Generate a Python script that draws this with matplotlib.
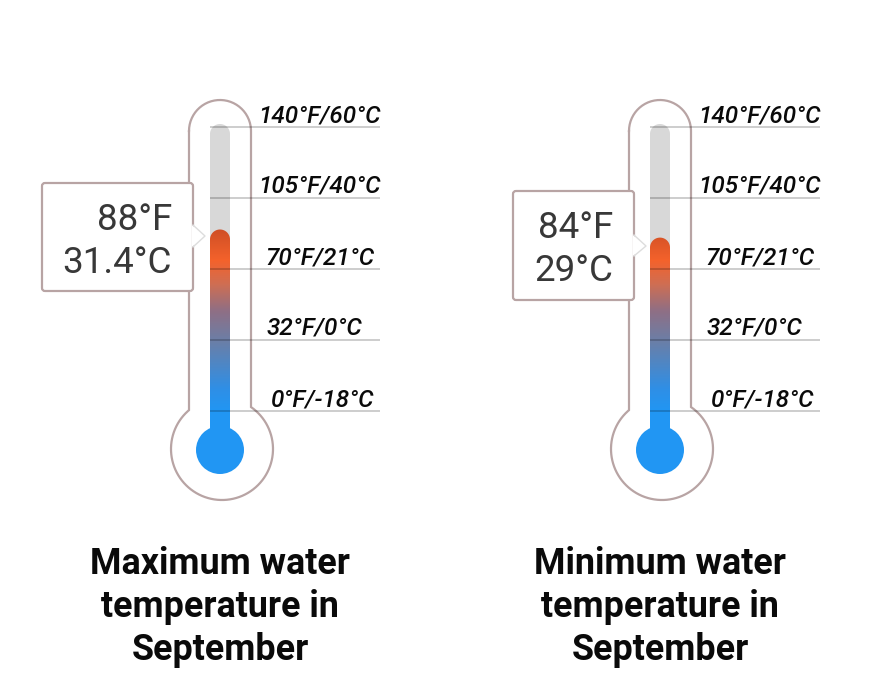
import numpy as np
import matplotlib
matplotlib.use("Agg")
import matplotlib.pyplot as plt
from matplotlib.path import Path
from matplotlib.patches import PathPatch, FancyBboxPatch, Polygon, Circle
from matplotlib.colors import LinearSegmentedColormap

plt.rcParams['font.family'] = ['Roboto', 'DejaVu Sans']

# Data
scale_f = [0, 32, 70, 105, 140]
tick_labels = ["0°F/-18°C", "32°F/0°C", "70°F/21°C", "105°F/40°C", "140°F/60°C"]
titles = ["Maximum water\ntemperature in\nSeptember", "Minimum water\ntemperature in\nSeptember"]
values_f = [88, 84]
values_c = ["31.4", "29"]

OUT = "#B8A4A4"
W, H = 880, 680
fig = plt.figure(figsize=(W / 100, H / 100), dpi=100)
ax = fig.add_axes([0, 0, 1, 1])
ax.set_xlim(0, W)
ax.set_ylim(H, 0)
ax.axis("off")

tick_y = [411, 340, 269, 198, 127]          # scale layout, px
label_x = [271, 267, 265.5, 258.5, 258.5]
def y_of(f):
    return np.interp(f, scale_f, tick_y)

cmap = LinearSegmentedColormap.from_list("t", [
    (0.00, "#CF4F26"), (0.17, "#F4622B"), (0.30, "#D06E52"),
    (0.45, "#8F6F85"), (0.62, "#6A7FA8"), (0.88, "#2F8FE6"), (1.00, "#2196F3")])

def tube_path(x0, x1, top, bottom):
    r = (x1 - x0) / 2
    t = np.linspace(np.pi, 0, 30)
    xs = (x0 + x1) / 2 + r * np.cos(t)
    ys = top + r - r * np.sin(t)
    v = [(x0, bottom)] + list(zip(xs, ys)) + [(x1, bottom), (x0, bottom)]
    return Path(v)

def thermo(dx, value_f, value_c, title, box, ptr):
    # outline
    cx, cy, R = 222 + dx, 449, 51
    tx, tr = 220 + dx, 31
    t = np.linspace(np.pi, 0, 60)
    top_x = tx + tr * np.cos(t)
    top_y = 131 - tr * np.sin(t)
    a_right = np.arctan2(np.sqrt(R**2 - 29**2), 29)
    a_left = np.arctan2(np.sqrt(R**2 - 33**2), -33)
    a = np.linspace(a_right, a_left - 2 * np.pi, 160)
    arc_x = cx + R * np.cos(a)
    arc_y = cy - R * np.sin(a)
    xs = np.concatenate([top_x, arc_x, top_x[:1]])
    ys = np.concatenate([top_y, arc_y, top_y[:1]])
    ax.plot(xs, ys, color=OUT, lw=1.6, zorder=1, solid_joinstyle="miter")

    # empty tube
    ax.add_patch(PathPatch(tube_path(210 + dx, 230 + dx, 124, 420), fc="#D8D8D8", ec="none", zorder=2))

    # filled part
    top = y_of(value_f) - 3
    clip = tube_path(210 + dx, 230 + dx, top, 440)
    grad = np.linspace(0, 1, 256).reshape(-1, 1)
    im = ax.imshow(grad, extent=(210 + dx, 230 + dx, 411, 229), aspect="auto",
                   cmap=cmap, origin="upper", zorder=3, interpolation="bilinear")
    im.set_clip_path(PathPatch(clip, transform=ax.transData))
    ax.add_patch(PathPatch(Path([(210 + dx, 411), (230 + dx, 411), (230 + dx, 440), (210 + dx, 440), (210 + dx, 411)]),
                           fc="#2196F3", ec="none", zorder=3))
    ax.add_patch(Circle((220 + dx, 450), 24, fc="#2196F3", ec="none", zorder=3))
    ax.set_xlim(0, W)
    ax.set_ylim(H, 0)

    # ticks and labels
    for yy, lab, lx in zip(tick_y, tick_labels, label_x):
        ax.plot([210 + dx, 380 + dx], [yy, yy], color="black", alpha=0.25, lw=1.1, zorder=4,
                solid_capstyle="butt")
        ax.text(lx + dx, yy - 5, lab, ha="left", va="baseline", fontsize=17.5, style="italic",
                fontweight="medium", color="#0A0A0A", zorder=5)

    # callout
    x0, y0, x1, y1 = box
    ax.add_patch(FancyBboxPatch((x0 + 2, y0 + 2), x1 - x0 - 4, y1 - y0 - 4,
                                boxstyle="round,pad=2,rounding_size=3",
                                fc="white", ec=OUT, lw=1.6, zorder=6))
    py0, py, py1 = ptr
    ax.add_patch(Polygon([(x1 - 1, py0), (x1 + 12, py), (x1 - 1, py1)], closed=True,
                         fc="white", ec="none", zorder=7))
    ax.plot([x1, x1 + 12, x1], [py0, py, py1], color="#DDDDDD", lw=1.0, zorder=7)
    ax.text(x1 - 21, y0 + 47, f"{value_f}°F", ha="right", va="baseline", fontsize=26.5,
            color="#383838", zorder=8)
    ax.text(x1 - 21, y0 + 90, f"{value_c}°C", ha="right", va="baseline", fontsize=26.5,
            color="#383838", zorder=8)

    # title
    for i, line in enumerate(title.split("\n")):
        ax.text(220 + dx, 574 + 43 * i, line, ha="center", va="baseline", fontsize=25.8,
                fontweight="bold", color="#0A0A0A")

thermo(0, values_f[0], values_c[0], titles[0], (42, 183, 193, 291), (225, 236, 247))
thermo(440, values_f[1], values_c[1], titles[1], (513, 191, 634, 300), (235, 246, 256))

fig.savefig("out.png", dpi=100, facecolor="white")
